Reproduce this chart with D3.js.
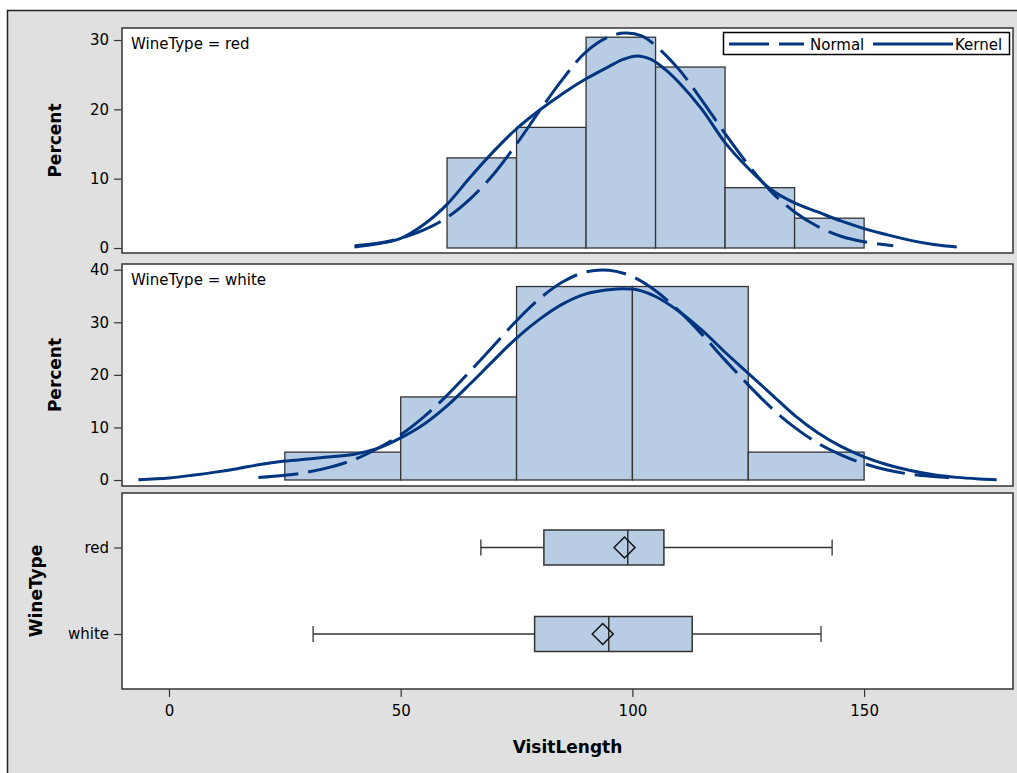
<!DOCTYPE html>
<html>
<head>
<meta charset="utf-8">
<script src="https://d3js.org/d3.v7.min.js"></script>
<style>
  body { margin: 0; background: #fff; }
  svg { display: block; font-family: "DejaVu Sans", sans-serif; }
  .tick text { font-size: 15px; fill: #000; font-family: "DejaVu Sans", sans-serif; }
  .tick line { stroke: #333; stroke-width: 1.2; }
  .lab { font-size: 17px; font-weight: bold; fill: #000; }
</style>
</head>
<body>
<svg width="1017" height="773"></svg>
<script>
// ---- data ----
var xTicks = [0, 50, 100, 150];
var pctTicksRed = [0, 10, 20, 30];
var pctTicksWhite = [0, 10, 20, 30, 40];

// histogram, WineType = red (bin width 15)
var redBinStart = [60, 75, 90, 105, 120, 135];
var redBinWidth = 15;
var redPct = [13.0, 17.4, 30.4, 26.1, 8.7, 4.3];

// histogram, WineType = white (bin width 25)
var whiteBinStart = [25, 50, 75, 100, 125];
var whiteBinWidth = 25;
var whitePct = [5.3, 15.8, 36.8, 36.8, 5.3];

// fitted curves [VisitLength, Percent]
var redNormal = [[40.1,0.34],[45,0.7],[50,1.4],[55,2.6],[60,4.4],[65,7.1],[70,10.6],[75,15.0],[80,19.8],
  [85,24.4],[90,28.3],[95,30.5],[98.5,31.0],[102,30.6],[105,29.2],[110,25.8],[115,21.3],[120,16.5],[125,12.0],
  [130,8.1],[135,5.2],[140,3.1],[145,1.7],[150,0.9],[156.3,0.34]];
var redKernel = [[40,0.15],[45,0.6],[50,1.4],[55,3.4],[60,6.3],[65,10.2],[70,13.9],[75,17.2],[80,19.9],
  [85,22.3],[90,24.4],[95,26.2],[98,27.2],[101,27.7],[104,27.2],[107,25.8],[110,23.9],[115,20.0],[120,15.2],
  [125,11.5],[130,8.4],[135,6.5],[140,5.2],[145,3.9],[150,2.8],[155,1.9],[160,1.1],[165,0.5],[170,0.15]];
var whiteNormal = [[19.3,0.47],[25,0.9],[30,1.5],[35,2.5],[40,3.9],[45,6.0],[50,8.6],[55,12.0],[60,16.1],
  [65,20.7],[70,25.5],[75,30.3],[80,34.5],[85,37.7],[90,39.6],[95,39.9],[100,38.7],[105,36.0],[110,32.2],
  [115,27.7],[120,22.8],[125,18.1],[130,13.7],[135,10.0],[140,7.0],[145,4.8],[150,3.1],[155,1.9],
  [160,1.1],[165,0.66],[168.3,0.45]];
var whiteKernel = [[-6.6,0.05],[0,0.4],[5,0.9],[10,1.5],[15,2.2],[20,3.0],[25,3.6],[30,4.0],[35,4.4],
  [40,4.9],[45,6.0],[50,8.0],[55,10.6],[60,14.1],[65,18.3],[70,22.7],[75,27.0],[80,30.6],[85,33.5],
  [90,35.4],[95,36.2],[98,36.4],[101,36.2],[105,34.9],[110,32.1],[115,28.5],[120,24.3],[125,20.3],[130,16.3],
  [135,12.3],[140,9.0],[145,6.4],[150,4.4],[155,2.9],[160,1.8],[165,1.0],[170,0.5],[175,0.2],[178.6,0.05]];

// box plot stats
var wineTypes = ["red", "white"];
var boxMin = [67.3, 31.1];
var boxQ1 = [80.9, 78.9];
var boxMedian = [99.0, 94.9];
var boxQ3 = [106.8, 112.9];
var boxMax = [143.1, 140.7];
var boxMean = [98.3, 93.6];

// ---- layout ----
var svg = d3.select("svg");
var left = 122, right = 1013;
var p1 = {top: 28, bottom: 253}, p2 = {top: 264, bottom: 486}, p3 = {top: 493, bottom: 689};
var fillCol = "#b8cce4", lineCol = "#003580", edgeCol = "#333";

svg.append("rect").attr("x", 7.5).attr("y", 10.5).attr("width", 1040).attr("height", 800)
  .attr("fill", "#e0e0e0").attr("stroke", "#222").attr("stroke-width", 1.5);

var x = d3.scaleLinear().domain([-10.14, 182.13]).range([left, right]);
var y1 = d3.scaleLinear().domain([0, 30]).range([248, 40]);
var y2 = d3.scaleLinear().domain([0, 40]).range([480, 269.7]);
var yb = d3.scalePoint().domain(wineTypes).range([547.5, 634]);

function panelBg(p) {
  svg.append("rect").attr("x", left).attr("y", p.top).attr("width", right - left)
    .attr("height", p.bottom - p.top).attr("fill", "#fff");
}
function panelBorder(p) {
  svg.append("rect").attr("x", left).attr("y", p.top).attr("width", right - left)
    .attr("height", p.bottom - p.top).attr("fill", "none").attr("stroke", edgeCol).attr("stroke-width", 1.5);
}
function yAxis(scale, ticks) {
  var g = svg.append("g").attr("transform", "translate(" + left + ",0)")
    .call(d3.axisLeft(scale).tickValues(ticks).tickSize(8).tickPadding(5).tickSizeOuter(0));
  g.select(".domain").remove();
  return g;
}

function histPanel(p, yScale, starts, width, pct, normal, kernel, label, ticks) {
  panelBg(p);
  svg.append("g").selectAll("rect").data(starts).join("rect")
    .attr("x", function(d) { return x(d); })
    .attr("width", function(d) { return x(d + width) - x(d); })
    .attr("y", function(d, i) { return yScale(pct[i]); })
    .attr("height", function(d, i) { return yScale(0) - yScale(pct[i]); })
    .attr("fill", fillCol).attr("stroke", edgeCol).attr("stroke-width", 1.3);
  var line = d3.line().x(function(d) { return x(d[0]); }).y(function(d) { return yScale(d[1]); })
    .curve(d3.curveCatmullRom.alpha(0.5));
  svg.append("path").datum(normal).attr("d", line).attr("fill", "none")
    .attr("stroke", lineCol).attr("stroke-width", 3).attr("stroke-dasharray", "40,10");
  svg.append("path").datum(kernel).attr("d", line).attr("fill", "none")
    .attr("stroke", lineCol).attr("stroke-width", 3);
  svg.append("text").attr("x", 131).attr("y", p.top + 20.5).attr("font-size", "15px").text(label);
  panelBorder(p);
  yAxis(yScale, ticks);
  svg.append("text").attr("class", "lab").attr("text-anchor", "middle")
    .attr("transform", "translate(61," + ((p.top + p.bottom) / 2) + ") rotate(-90)").text("Percent");
}

histPanel(p1, y1, redBinStart, redBinWidth, redPct, redNormal, redKernel, "WineType = red", pctTicksRed);
histPanel(p2, y2, whiteBinStart, whiteBinWidth, whitePct, whiteNormal, whiteKernel, "WineType = white", pctTicksWhite);

// legend
var lg = svg.append("g");
lg.append("rect").attr("x", 723.5).attr("y", 32.5).attr("width", 286).attr("height", 22)
  .attr("fill", "#fff").attr("stroke", "#000").attr("stroke-width", 1.5);
lg.append("line").attr("x1", 729).attr("x2", 804).attr("y1", 44).attr("y2", 44)
  .attr("stroke", lineCol).attr("stroke-width", 3).attr("stroke-dasharray", "40,10");
lg.append("text").attr("x", 810).attr("y", 49.5).attr("font-size", "15px").text("Normal");
lg.append("line").attr("x1", 873).attr("x2", 953).attr("y1", 44).attr("y2", 44)
  .attr("stroke", lineCol).attr("stroke-width", 3);
lg.append("text").attr("x", 955).attr("y", 49.5).attr("font-size", "15px").text("Kernel");

// box plot panel
panelBg(p3);
var bh = 17.5, cap = 8, dm = 10.5;
var bx = svg.append("g").selectAll("g").data(wineTypes).join("g");
bx.append("line")
  .attr("x1", function(d, i) { return x(boxMin[i]); }).attr("x2", function(d, i) { return x(boxMax[i]); })
  .attr("y1", function(d) { return yb(d); }).attr("y2", function(d) { return yb(d); })
  .attr("stroke", edgeCol).attr("stroke-width", 1.3);
[boxMin, boxMax].forEach(function(arr) {
  bx.append("line")
    .attr("x1", function(d, i) { return x(arr[i]); }).attr("x2", function(d, i) { return x(arr[i]); })
    .attr("y1", function(d) { return yb(d) - cap; }).attr("y2", function(d) { return yb(d) + cap; })
    .attr("stroke", edgeCol).attr("stroke-width", 1.3);
});
bx.append("rect")
  .attr("x", function(d, i) { return x(boxQ1[i]); })
  .attr("width", function(d, i) { return x(boxQ3[i]) - x(boxQ1[i]); })
  .attr("y", function(d) { return yb(d) - bh; }).attr("height", bh * 2)
  .attr("fill", fillCol).attr("stroke", edgeCol).attr("stroke-width", 1.5);
bx.append("line")
  .attr("x1", function(d, i) { return x(boxMedian[i]); }).attr("x2", function(d, i) { return x(boxMedian[i]); })
  .attr("y1", function(d) { return yb(d) - bh; }).attr("y2", function(d) { return yb(d) + bh; })
  .attr("stroke", edgeCol).attr("stroke-width", 1.5);
bx.append("path")
  .attr("d", function(d, i) {
    var cx = x(boxMean[i]), cy = yb(d);
    return "M" + (cx - dm) + "," + cy + "L" + cx + "," + (cy - dm) + "L" + (cx + dm) + "," + cy +
      "L" + cx + "," + (cy + dm) + "Z";
  })
  .attr("fill", "none").attr("stroke", "#111").attr("stroke-width", 1.5);
panelBorder(p3);
yAxis(yb, wineTypes);
svg.append("text").attr("class", "lab").attr("text-anchor", "middle")
  .attr("transform", "translate(42,591) rotate(-90)").text("WineType");

// x axis
var xg = svg.append("g").attr("transform", "translate(0," + p3.bottom + ")")
  .call(d3.axisBottom(x).tickValues(xTicks).tickSize(8).tickPadding(8).tickSizeOuter(0));
xg.select(".domain").remove();
svg.append("text").attr("class", "lab").attr("text-anchor", "middle")
  .attr("x", (left + right) / 2).attr("y", 753).text("VisitLength");
</script>
</body>
</html>
